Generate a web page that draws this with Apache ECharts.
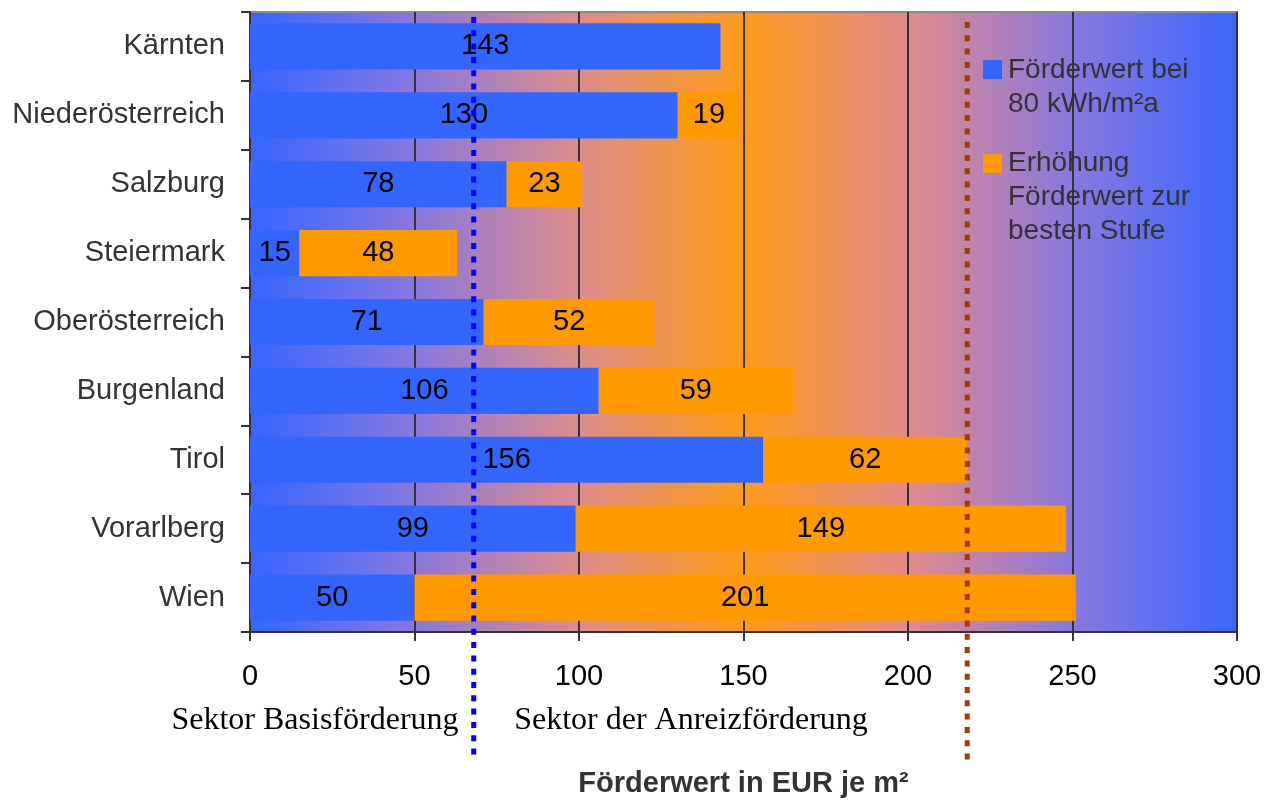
<!DOCTYPE html>
<html>
<head>
<meta charset="utf-8">
<script src="https://cdn.jsdelivr.net/npm/echarts@6/dist/echarts.min.js"></script>
<style>
  html, body { margin: 0; padding: 0; background: #fff; }
  #chart { width: 1280px; height: 803px; }
</style>
</head>
<body>
<div id="chart"></div>
<script>
// Bundesländer, top to bottom
const categories = ['Kärnten', 'Niederösterreich', 'Salzburg', 'Steiermark', 'Oberösterreich', 'Burgenland', 'Tirol', 'Vorarlberg', 'Wien'];
// Förderwert bei 80 kWh/m²a (EUR je m²)
const baseValues = [143, 130, 78, 15, 71, 106, 156, 99, 50];
// Erhöhung Förderwert zur besten Stufe (EUR je m²); null = keine Erhöhung
const bonusValues = [null, 19, 23, 48, 52, 59, 62, 149, 201];
const seriesNames = ['Förderwert bei\n80 kWh/m²a', 'Erhöhung\nFörderwert zur\nbesten Stufe'];
const xTicks = [0, 50, 100, 150, 200, 250, 300];
// Sektorgrenzen (EUR je m²)
const basisLimit = 68;
const anreizLimit = 218;

const chart = echarts.init(document.getElementById('chart'));
const font = '"Liberation Sans", Arial, sans-serif';
const serif = '"Liberation Serif", "Times New Roman", serif';
const grid = { left: 250, right: 43, top: 12, bottom: 171 };

const option = {
  animation: false,
  textStyle: { fontFamily: font },
  grid: Object.assign({
    show: true,
    borderColor: '#8a8a8a',
    borderWidth: 2,
    backgroundColor: {
      type: 'linear', x: 0, y: 0, x2: 1, y2: 0,
      colorStops: [
        { offset: 0, color: '#3366FF' },
        { offset: 0.17, color: '#8A78DE' },
        { offset: 0.33, color: '#DC8C8C' },
        { offset: 0.5, color: '#FF9A1A' },
        { offset: 0.67, color: '#E08A8C' },
        { offset: 0.83, color: '#8A78DE' },
        { offset: 1, color: '#3A66FF' }
      ]
    }
  }, grid),
  xAxis: {
    type: 'value',
    min: xTicks[0],
    max: xTicks[xTicks.length - 1],
    interval: 50,
    name: 'Förderwert in EUR je m²',
    nameLocation: 'middle',
    nameGap: 137,
    nameTextStyle: { fontSize: 29, fontWeight: 'bold', color: '#333', fontFamily: font },
    axisLine: { show: true, lineStyle: { color: '#333', width: 2 } },
    axisTick: { show: true, length: 9, lineStyle: { color: '#333', width: 2 } },
    axisLabel: { fontSize: 29, color: '#000', margin: 30, fontFamily: font },
    splitLine: { show: true, lineStyle: { color: '#333', width: 2 } }
  },
  yAxis: {
    type: 'category',
    data: categories,
    inverse: true,
    axisLine: { show: true, lineStyle: { color: '#333', width: 2 } },
    axisTick: { show: true, length: 9, alignWithLabel: false, lineStyle: { color: '#333', width: 2 } },
    axisLabel: { fontSize: 29, color: '#333', margin: 25, fontFamily: font },
    splitLine: { show: false }
  },
  series: [
    {
      name: seriesNames[0],
      type: 'bar',
      stack: 'total',
      data: baseValues,
      barCategoryGap: '33%',
      itemStyle: { color: '#3366FF' },
      label: { show: true, position: 'inside', color: '#000', fontSize: 29, fontFamily: font }
    },
    {
      name: seriesNames[1],
      type: 'bar',
      stack: 'total',
      data: bonusValues,
      barCategoryGap: '33%',
      itemStyle: { color: '#FF9900' },
      label: { show: true, position: 'inside', color: '#000', fontSize: 29, fontFamily: font }
    }
  ]
};
chart.setOption(option);

// Sector boundaries and annotations, placed through the value axis
const xBasis = chart.convertToPixel({ xAxisIndex: 0 }, basisLimit);
const xAnreiz = chart.convertToPixel({ xAxisIndex: 0 }, anreizLimit);
const legendX = 983;
const legendTextStyle = { fontSize: 28, fill: '#333', fontFamily: font, lineHeight: 34 };

chart.setOption({
  graphic: [
    {
      type: 'line', z: 100,
      shape: { x1: xBasis, y1: 17, x2: xBasis, y2: 760 },
      style: { stroke: '#0000FF', lineWidth: 5, lineDash: [6, 7.3] }
    },
    {
      type: 'line', z: 100,
      shape: { x1: xAnreiz, y1: 22, x2: xAnreiz, y2: 763 },
      style: { stroke: '#A33A08', lineWidth: 5, lineDash: [6, 7.3] }
    },
    // legend
    { type: 'rect', z: 110, shape: { x: legendX, y: 60, width: 19, height: 19 }, style: { fill: '#3366FF' } },
    { type: 'text', z: 110, left: legendX + 25, top: 53, style: Object.assign({ text: seriesNames[0] }, legendTextStyle) },
    { type: 'rect', z: 110, shape: { x: legendX, y: 154, width: 19, height: 19 }, style: { fill: '#FF9900' } },
    { type: 'text', z: 110, left: legendX + 25, top: 146, style: Object.assign({ text: seriesNames[1] }, legendTextStyle) },
    // sector captions
    {
      type: 'text', z: 110, x: 315, y: 721,
      style: { text: 'Sektor Basisförderung', fontSize: 32, fill: '#000', fontFamily: serif, align: 'center', verticalAlign: 'middle' }
    },
    {
      type: 'text', z: 110, x: 691, y: 721,
      style: { text: 'Sektor der Anreizförderung', fontSize: 32, fill: '#000', fontFamily: serif, align: 'center', verticalAlign: 'middle' }
    }
  ]
});
</script>
</body>
</html>
